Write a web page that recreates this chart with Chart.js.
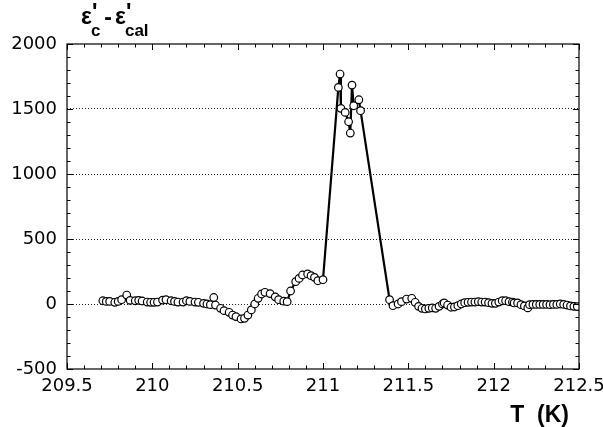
<!DOCTYPE html>
<html>
<head>
<meta charset="utf-8">
<script src="https://cdn.jsdelivr.net/npm/chart.js@4"></script>
<style>
  html, body { margin: 0; padding: 0; background: #fff; }
  canvas { display: block; }
</style>
</head>
<body>
<canvas id="c" width="603" height="427"></canvas>
<script>
// Temperature (K) of each measurement
const temps = [
  209.71, 209.73, 209.75, 209.78, 209.80, 209.82, 209.85, 209.87, 209.90, 209.92,
  209.94, 209.97, 209.99, 210.01, 210.03, 210.06, 210.08, 210.11, 210.13, 210.15,
  210.18, 210.20, 210.22, 210.25, 210.27, 210.30, 210.32, 210.34, 210.36, 210.37,
  210.40, 210.42, 210.45, 210.47, 210.49, 210.52, 210.54, 210.56, 210.58, 210.60,
  210.62, 210.64, 210.66, 210.69, 210.72, 210.74, 210.77, 210.79, 210.81, 210.84,
  210.86, 210.88, 210.91, 210.93, 210.95, 210.97, 211.00,
  211.09, 211.10, 211.105, 211.13, 211.15, 211.16, 211.17, 211.18, 211.21, 211.22,
  211.39, 211.41, 211.44, 211.46, 211.49, 211.52, 211.54, 211.56, 211.58, 211.60,
  211.62, 211.64, 211.66, 211.68, 211.70, 211.71, 211.73, 211.75, 211.77, 211.79,
  211.81, 211.83, 211.85, 211.87, 211.89, 211.91, 211.93, 211.95, 211.97, 211.99,
  212.01, 212.03, 212.05, 212.07, 212.09, 212.11, 212.12, 212.14, 212.16, 212.18,
  212.20, 212.21, 212.23, 212.25, 212.27, 212.29, 212.31, 212.33, 212.35, 212.37,
  212.39, 212.41, 212.43, 212.45, 212.47, 212.49
];

// Dielectric constant difference eps'_c - eps'_cal
const deltaEps = [
  25, 20, 20, 13, 20, 33, 69, 28, 25, 28,
  23, 15, 13, 13, 15, 30, 33, 25, 20, 15,
  15, 25, 20, 15, 13, 5, 0, -5, 50, -8,
  -33, -51, -64, -85, -97, -115, -110, -85, -46, 0,
  44, 77, 90, 80, 55, 33, 22, 18, 100, 172,
  197, 223, 231, 218, 205, 179, 187,
  1666, 1769, 1505, 1474, 1402, 1315, 1684, 1525, 1571, 1487,
  33, -13, 0, 18, 38, 44, 13, -18, -33, -38,
  -33, -30, -33, -18, 0, 8, -8, -25, -23, -13,
  0, 10, 13, 15, 15, 18, 15, 15, 10, 5,
  5, 15, 25, 25, 18, 15, 8, 8, -5, -15,
  -30, -5, -3, -3, -3, -3, -3, -5, -3, -3,
  0, -3, -8, -15, -18, -20
];

// Axis ranges and tick steps
const xRange = [209.5, 212.5];
const yRange = [-500, 2000];
const xMajor = 0.5, xMinor = 0.1;
const yMajor = 500, yMinor = 100;

const points = temps.map((t, i) => ({ x: t, y: deltaEps[i] }));

// Boxed frame with inward-pointing ticks on all four sides, plus axis captions
const framePlugin = {
  id: 'framePlugin',
  afterDraw(chart) {
    const { ctx, chartArea: a, scales: { x, y } } = chart;
    ctx.save();
    ctx.strokeStyle = '#000';
    ctx.lineWidth = 1.2;
    ctx.strokeRect(a.left, a.top, a.right - a.left, a.bottom - a.top);

    ctx.lineWidth = 1;
    ctx.beginPath();
    const nx = Math.round((xRange[1] - xRange[0]) / xMinor);
    for (let k = 0; k <= nx; k++) {
      const px = Math.round(x.getPixelForValue(xRange[0] + k * xMinor)) + 0.5;
      const len = (k % Math.round(xMajor / xMinor) === 0) ? 6 : 3.5;
      ctx.moveTo(px, a.bottom); ctx.lineTo(px, a.bottom - len);
      ctx.moveTo(px, a.top); ctx.lineTo(px, a.top + len);
    }
    const ny = Math.round((yRange[1] - yRange[0]) / yMinor);
    for (let k = 0; k <= ny; k++) {
      const py = Math.round(y.getPixelForValue(yRange[0] + k * yMinor)) + 0.5;
      const len = (k % Math.round(yMajor / yMinor) === 0) ? 6 : 3.5;
      ctx.moveTo(a.left, py); ctx.lineTo(a.left + len, py);
      ctx.moveTo(a.right, py); ctx.lineTo(a.right - len, py);
    }
    ctx.stroke();

    // y-axis caption: eps'_c - eps'_cal
    ctx.fillStyle = '#000';
    ctx.textBaseline = 'alphabetic';
    ctx.textAlign = 'left';
    const big = 'bold 23px "Liberation Sans", Arial, sans-serif';
    const small = 'bold 17px "Liberation Sans", Arial, sans-serif';
    let cx = 81;
    ctx.font = big;
    ctx.fillText('ε', cx, 24);
    cx += ctx.measureText('ε').width;
    ctx.fillText('\'', cx, 20);
    ctx.font = small;
    ctx.fillText('c', cx - 1, 36);
    cx += ctx.measureText('c').width + 3;
    ctx.font = big;
    ctx.fillText('-', cx, 25);
    cx += ctx.measureText('-').width + 3;
    ctx.fillText('ε', cx, 24);
    cx += ctx.measureText('ε').width;
    ctx.fillText('\'', cx, 20);
    ctx.font = small;
    ctx.fillText('cal', cx - 1, 36);

    // x-axis caption
    ctx.font = 'bold 23px "Liberation Sans", Arial, sans-serif';
    ctx.textAlign = 'right';
    ctx.fillText('T  (K)', 569, 422);
    ctx.restore();
  }
};

new Chart(document.getElementById('c'), {
  type: 'scatter',
  data: {
    datasets: [{
      data: points,
      showLine: true,
      borderColor: '#000',
      borderWidth: 2.2,
      tension: 0,
      pointRadius: 3.8,
      pointBorderWidth: 1.2,
      pointBorderColor: '#000',
      pointBackgroundColor: '#fff'
    }]
  },
  options: {
    responsive: false,
    devicePixelRatio: 1,
    animation: false,
    layout: { padding: { left: 0, top: 44, right: 24, bottom: 0 } },
    plugins: { legend: { display: false }, tooltip: { enabled: false } },
    scales: {
      x: {
        type: 'linear',
        min: xRange[0], max: xRange[1],
        border: { display: false },
        grid: { display: false, drawTicks: false },
        ticks: {
          stepSize: xMajor,
          padding: 7,
          color: '#000',
          font: { family: '"DejaVu Sans", sans-serif', size: 18 },
          maxRotation: 0,
          autoSkip: false,
          callback: v => String(v)
        },
        afterFit(s) { s.height = 58; s.paddingLeft = 0; s.paddingRight = 0; }
      },
      y: {
        type: 'linear',
        min: yRange[0], max: yRange[1],
        border: { display: false, dash: [1, 2] },
        grid: {
          drawTicks: false,
          color: ctx => (ctx.tick && (ctx.tick.value === yRange[0] || ctx.tick.value === yRange[1])) ? 'rgba(0,0,0,0)' : '#222',
          lineWidth: 1
        },
        ticks: {
          stepSize: yMajor,
          padding: 10,
          color: '#000',
          font: { family: '"DejaVu Sans", sans-serif', size: 18 },
          callback: v => String(v)
        },
        afterFit(s) { s.width = 67; s.paddingTop = 0; s.paddingBottom = 0; }
      }
    }
  },
  plugins: [framePlugin]
});
</script>
</body>
</html>
